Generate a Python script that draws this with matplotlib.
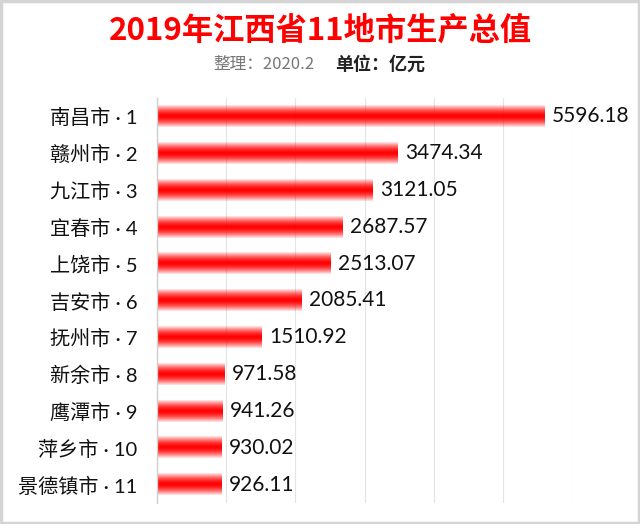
import numpy as np
import matplotlib.pyplot as plt
from matplotlib.patches import Rectangle

plt.rcParams['font.family'] = ['Noto Sans CJK SC', 'DejaVu Sans']
label_font = ['Lato', 'Noto Sans CJK SC']

# data (top to bottom)
cities = ['南昌市', '赣州市', '九江市', '宜春市', '上饶市', '吉安市',
          '抚州市', '新余市', '鹰潭市', '萍乡市', '景德镇市']
values = [5596.18, 3474.34, 3121.05, 2687.57, 2513.07, 2085.41,
          1510.92, 971.58, 941.26, 930.02, 926.11]
ranks = list(range(1, len(cities) + 1))

fig = plt.figure(figsize=(6.4, 5.24), dpi=100)
fig.patch.set_facecolor('white')
ax = fig.add_axes([157 / 640, 1 - 503 / 524, 415 / 640, 405 / 524])

# vertical gradient for the bars: red in the middle, pale at the edges
t = np.linspace(-1, 1, 64)
alpha = np.clip(1 - np.abs(t) ** 1.6, 0, 1) * 0.92 + 0.08
grad = np.zeros((len(t), 1, 4))
grad[..., 0] = 1.0
grad[..., 3] = alpha[:, None]

h = 0.58
ypos = np.arange(len(cities))
for y, v in zip(ypos, values):
    ax.imshow(grad, extent=(0, v, y + h / 2, y - h / 2), aspect='auto',
              interpolation='bicubic', zorder=2)
    ax.text(v + 110, y, f'{v:.2f}', va='center', ha='left', fontsize=15,
            color='#111111', family=label_font, zorder=3)

ax.set_xlim(0, 6000)
ax.set_ylim(len(cities) - 0.5, -0.5)
ax.set_xticks(np.arange(0, 6001, 1000))
ax.grid(axis='x', color='#e4e4e4', linewidth=0.8, zorder=0)
ax.tick_params(axis='x', length=0, labelbottom=False)
ax.set_yticks(ypos)
ax.set_yticklabels([f'{c} · {r}' for c, r in zip(cities, ranks)],
                   fontsize=14.5, family=label_font)
ax.tick_params(axis='y', length=0, pad=14, colors='#111111')
for s in ['top', 'right', 'bottom']:
    ax.spines[s].set_visible(False)
ax.spines['left'].set_color('#cfcfcf')
ax.spines['left'].set_linewidth(1)

# titles
fig.text(0.5, 1 - 31 / 524, '2019年江西省11地市生产总值', ha='center', va='center',
         fontsize=22.5, fontweight='bold', color='#ff0000')
fig.text(315 / 640, 1 - 64.5 / 524, '整理：2020.2', ha='right', va='center',
         fontsize=12, color='#777777')
fig.text(335 / 640, 1 - 64.5 / 524, '单位：亿元', ha='left', va='center',
         fontsize=13, fontweight='bold', color='#222222')

# outer frame
fig.patches.append(Rectangle((0.002, 0.002), 0.996, 0.996, transform=fig.transFigure,
                             fill=False, edgecolor='#d4d4d4', linewidth=2.5))

fig.savefig('out.png', dpi=100)
